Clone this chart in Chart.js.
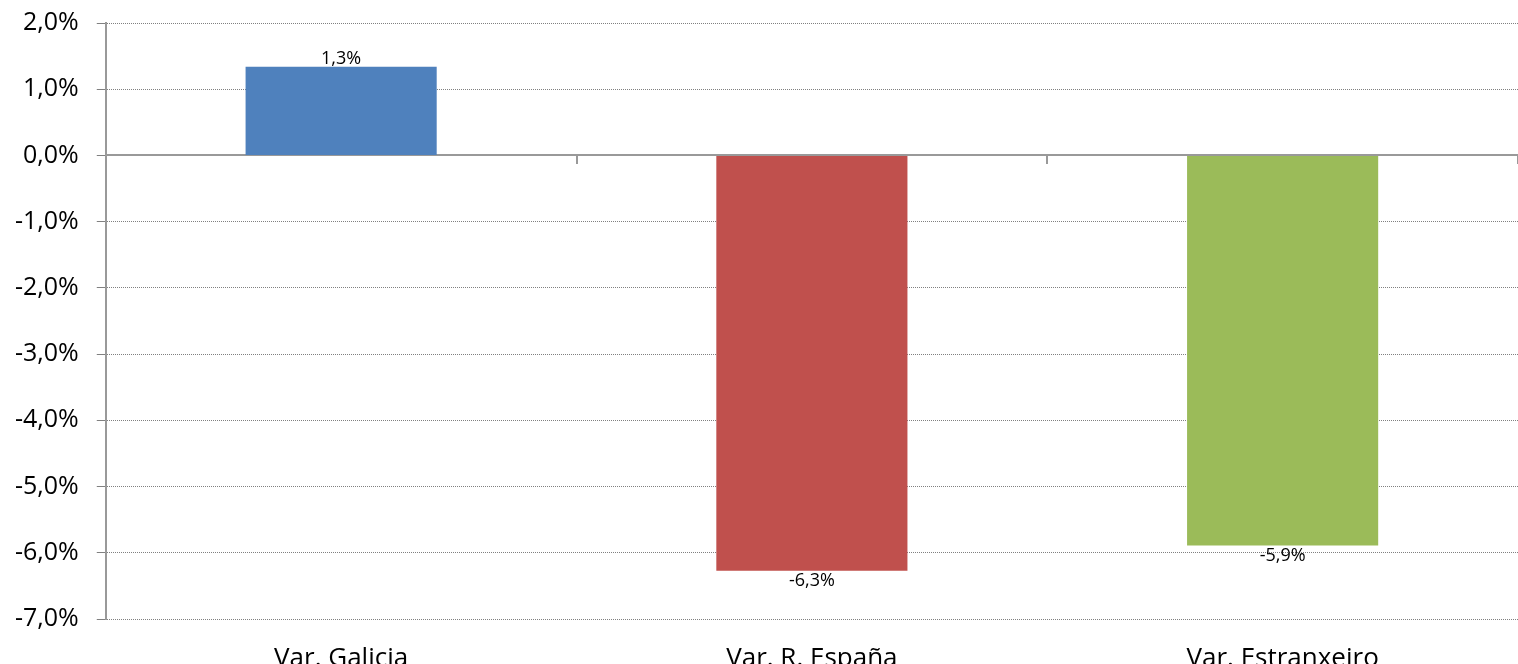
<!DOCTYPE html>
<html>
<head>
<meta charset="utf-8">
<script src="https://cdn.jsdelivr.net/npm/chart.js@4/dist/chart.umd.min.js"></script>
<style>
  html, body { margin: 0; padding: 0; background: #fff; }
  canvas { display: block; }
</style>
</head>
<body>
<canvas id="myChart" width="1518" height="664"></canvas>
<script>
const categories = ["Var. Galicia", "Var. R. España", "Var. Estranxeiro"];
const values = [1.34, -6.27, -5.89];
const barColors = ["#4F81BD", "#C0504D", "#9BBB59"];
const yMin = -7;
const yMax = 2;

const fmt = (v, d) => v.toFixed(d).replace(".", ",") + "%";

// labels above / below each bar
const barLabels = {
  id: "barLabels",
  afterDatasetsDraw(chart) {
    const ctx = chart.ctx;
    const meta = chart.getDatasetMeta(0);
    ctx.save();
    ctx.font = "18px 'Open Sans'";
    ctx.fillStyle = "#000";
    ctx.textAlign = "center";
    meta.data.forEach((bar, i) => {
      const v = values[i];
      if (v >= 0) {
        ctx.textBaseline = "bottom";
        ctx.fillText(fmt(v, 1), bar.x, bar.y + 1);
      } else {
        ctx.textBaseline = "top";
        ctx.fillText(fmt(v, 1), bar.x, bar.y + 1);
      }
    });
    ctx.restore();
  },
};

const data = {
  labels: categories,
  datasets: [
    {
      data: values,
      backgroundColor: barColors,
      borderWidth: 0,
      categoryPercentage: 1,
      barPercentage: 0.406,
    },
  ],
};

const config = {
  type: "bar",
  data: data,
  options: {
    responsive: false,
    animation: false,
    devicePixelRatio: 1,
    layout: { padding: { top: 10, right: 0, bottom: -27, left: -3 } },
    plugins: {
      legend: { display: false },
      tooltip: { enabled: false },
    },
    scales: {
      x: {
        grid: { display: false },
        border: { display: false },
        ticks: {
          font: { family: "Open Sans", size: 26, lineHeight: 1 },
          color: "#000",
          padding: 19,
        },
      },
      x2: {
        position: { y: 0 },
        labels: categories,
        grid: {
          offset: true,
          drawOnChartArea: false,
          tickLength: 8,
          color: "#999",
          lineWidth: 2,
        },
        border: { color: "#999", width: 2 },
        ticks: { display: false },
      },
      y: {
        min: yMin,
        max: yMax,
        ticks: {
          stepSize: 1,
          font: { family: "Open Sans", size: 25, lineHeight: 0.4 },
          color: "#000",
          padding: 18,
          callback: (v) => fmt(v, 1),
        },
        grid: { color: "#808080", lineWidth: 1, tickLength: 9 },
        border: { color: "#999", width: 2, dash: [1, 1] },
      },
    },
  },
  plugins: [barLabels],
};

const myChart = new Chart(document.getElementById("myChart"), config);
</script>
</body>
</html>
